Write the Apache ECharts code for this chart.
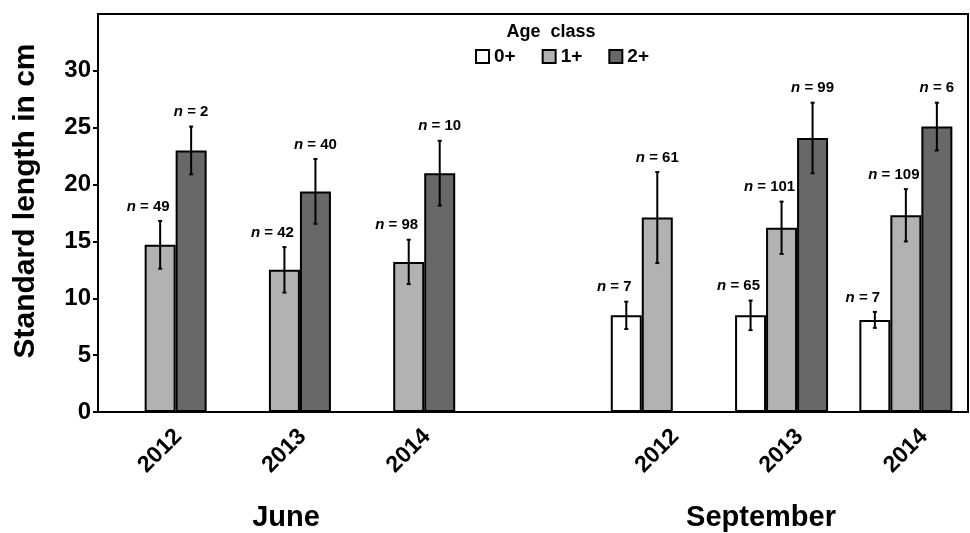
<!DOCTYPE html>
<html>
<head>
<meta charset="utf-8">
<script src="https://cdn.jsdelivr.net/npm/echarts@6/dist/echarts.min.js"></script>
<style>
  html, body { margin: 0; padding: 0; background: #fff; }
  #main { width: 970px; height: 533px; }
</style>
</head>
<body>
<div id="main"></div>
<script>
// years per month group, empty slot separates June and September
const categories = ['2012', '2013', '2014', '', '2012', '2013', '2014'];
const ageClasses = ['0+', '1+', '2+'];

// mean standard length (cm) per age class
const mean0 = [null, null, null, null, 8.5, 8.5, 8.1];
const mean1 = [14.7, 12.5, 13.2, null, 17.1, 16.2, 17.3];
const mean2 = [23.0, 19.4, 21.0, null, null, 24.1, 25.1];

// error bar half-length
const err0 = [null, null, null, null, 1.2, 1.3, 0.7];
const err1 = [2.1, 2.0, 1.95, null, 4.0, 2.3, 2.3];
const err2 = [2.1, 2.85, 2.85, null, null, 3.1, 2.1];

// sample sizes
const n0 = [null, null, null, null, 7, 65, 7];
const n1 = [49, 42, 98, null, 61, 101, 109];
const n2 = [2, 40, 10, null, null, 99, 6];

const yTicks = [0, 5, 10, 15, 20, 25, 30];

const FONT = "'Liberation Sans', Arial, sans-serif";
const colors = ['#ffffff', '#b2b2b2', '#686868'];
const BAR_W = 31;

const means = [mean0, mean1, mean2];
const errs = [err0, err1, err2];
const ns = [n0, n1, n2];

// rows for the custom series: [cat, mean, err, n, series, hasNext]
const errData = [];
for (let s = 0; s < 3; s++) {
  for (let c = 0; c < categories.length; c++) {
    if (means[s][c] == null) continue;
    const hasNext = s < 2 && means[s + 1][c] != null ? 1 : 0;
    errData.push([c, means[s][c], errs[s][c], ns[s][c], s, hasNext]);
  }
}

const chart = echarts.init(document.getElementById('main'));

function renderErr(params, api) {
  const c = api.value(0), m = api.value(1), e = api.value(2);
  const n = api.value(3), s = api.value(4), hasNext = api.value(5);
  const cx = api.coord([c, 0])[0] + (s - 1) * BAR_W;
  const top = api.coord([c, m + e])[1];
  const bot = api.coord([c, m - e])[1];
  const st = { stroke: '#000', lineWidth: 2 };
  return {
    type: 'group',
    children: [
      { type: 'line', shape: { x1: cx, y1: top, x2: cx, y2: bot }, style: st },
      { type: 'line', shape: { x1: cx - 2, y1: top, x2: cx + 2, y2: top }, style: st },
      { type: 'line', shape: { x1: cx - 2, y1: bot, x2: cx + 2, y2: bot }, style: st },
      {
        type: 'text',
        x: cx + (hasNext ? -12 : 0),
        y: top - 7,
        style: {
          text: '{i|n} = ' + n,
          fontFamily: FONT,
          fontSize: 15,
          fontWeight: 'bold',
          fill: '#000',
          align: 'center',
          verticalAlign: 'bottom',
          rich: { i: { fontStyle: 'italic', fontWeight: 'bold', fontSize: 15, fontFamily: FONT } }
        }
      }
    ]
  };
}

const barSeries = ageClasses.map((name, i) => ({
  name: name,
  type: 'bar',
  data: means[i],
  barWidth: BAR_W,
  barGap: '0%',
  itemStyle: { color: colors[i], borderColor: '#000', borderWidth: 2 }
}));

const option = {
  backgroundColor: '#fff',
  animation: false,
  title: {
    text: 'Age  class',
    left: 546,
    top: 18,
    textAlign: 'center',
    textStyle: { fontFamily: FONT, fontSize: 18, fontWeight: 'bold', color: '#000' }
  },
  legend: {
    data: ageClasses,
    left: 470,
    top: 42,
    itemWidth: 13,
    itemHeight: 13,
    itemGap: 26,
    icon: 'rect',
    textStyle: { fontFamily: FONT, fontSize: 19, fontWeight: 'bold', color: '#000' }
  },
  grid: {
    left: 98, right: 2, top: 14, bottom: 121,
    show: true, borderColor: '#000', borderWidth: 2, backgroundColor: 'transparent'
  },
  xAxis: {
    type: 'category',
    data: categories,
    axisLine: { lineStyle: { color: '#000', width: 2 } },
    axisTick: { show: false },
    axisLabel: {
      rotate: 45,
      align: 'center',
      verticalAlign: 'middle',
      margin: 39,
      fontFamily: FONT,
      fontSize: 23,
      fontWeight: 'bold',
      color: '#000'
    }
  },
  yAxis: {
    type: 'value',
    min: 0,
    max: 35,
    interval: 5,
    axisLine: { show: true, lineStyle: { color: '#000', width: 2 } },
    axisTick: { show: true, length: 5, customValues: yTicks, lineStyle: { color: '#000', width: 2 } },
    splitLine: { show: false },
    axisLabel: {
      margin: 7,
      customValues: yTicks,
      fontFamily: FONT,
      fontSize: 24,
      fontWeight: 'bold',
      color: '#000'
    }
  },
  graphic: [
    {
      type: 'text', x: 26, y: 201, rotation: Math.PI / 2,
      style: {
        text: 'Standard length in cm', fontFamily: FONT, fontSize: 30, fontWeight: 'bold',
        fill: '#000', align: 'center', verticalAlign: 'middle'
      }
    },
    {
      type: 'text', x: 286, y: 518,
      style: {
        text: 'June', fontFamily: FONT, fontSize: 29, fontWeight: 'bold',
        fill: '#000', align: 'center', verticalAlign: 'middle'
      }
    },
    {
      type: 'text', x: 761, y: 518,
      style: {
        text: 'September', fontFamily: FONT, fontSize: 29, fontWeight: 'bold',
        fill: '#000', align: 'center', verticalAlign: 'middle'
      }
    }
  ],
  series: barSeries.concat([{
    type: 'custom',
    name: 'err',
    renderItem: renderErr,
    data: errData,
    encode: { x: 0, y: 1 },
    z: 5
  }])
};

chart.setOption(option);
window.addEventListener('resize', function () {
  chart.resize();
});
</script>
</body>
</html>
